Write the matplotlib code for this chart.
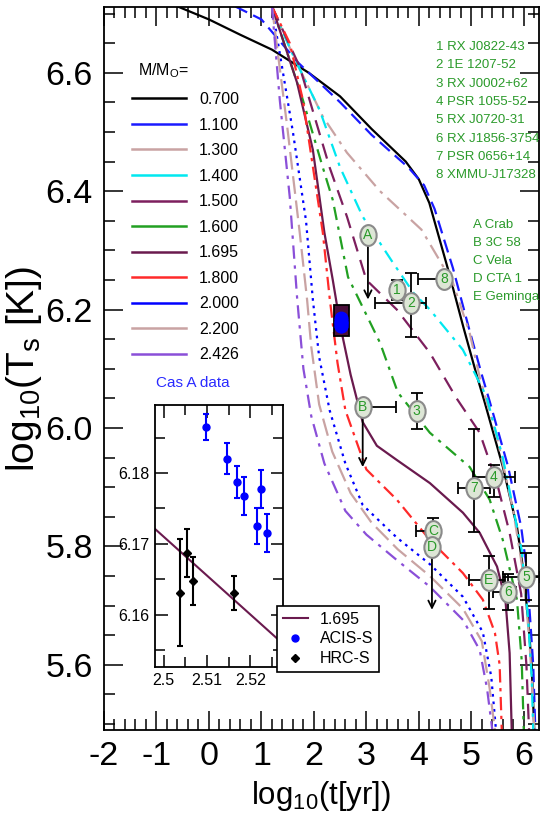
import matplotlib
matplotlib.use('Agg')
import matplotlib.pyplot as plt
import matplotlib.transforms as mtransforms
from matplotlib.lines import Line2D
from matplotlib.path import Path
from matplotlib.patches import Rectangle
from matplotlib.ticker import MultipleLocator, FormatStrFormatter

plt.rcParams['font.family'] = ['Liberation Sans', 'DejaVu Sans']
plt.rcParams['axes.unicode_minus'] = False

# cooling curves, log10(t[yr]) vs log10(Ts[K])
t_0700 = [-0.6, 0.0, 0.6, 1.2, 1.9, 2.5, 3.1, 3.75, 4.0, 4.2, 4.55, 4.85, 5.1, 5.25, 5.6, 5.87, 5.98, 6.08, 6.15, 6.2]
T_0700 = [6.712, 6.69, 6.664, 6.639, 6.60, 6.56, 6.505, 6.45, 6.42, 6.38, 6.27, 6.17, 6.09, 6.045, 5.935, 5.833, 5.766, 5.68, 5.60, 5.49]
t_1100 = [0.5, 1.0, 1.7, 2.5, 3.1, 3.8, 4.1, 4.3, 4.65, 4.95, 5.2, 5.35, 5.7, 5.95, 6.05, 6.12, 6.18, 6.22]
T_1100 = [6.712, 6.69, 6.617, 6.55, 6.495, 6.44, 6.41, 6.37, 6.27, 6.17, 6.09, 6.045, 5.935, 5.833, 5.766, 5.68, 5.60, 5.49]
t_1300 = [1.2, 1.6, 2.17, 2.63, 3.26, 4.05, 4.65, 4.97, 5.16, 5.5, 5.8, 5.98, 6.1, 6.17, 6.2]
T_1300 = [6.712, 6.63, 6.526, 6.465, 6.40, 6.335, 6.245, 6.16, 6.086, 5.98, 5.86, 5.76, 5.65, 5.55, 5.49]
t_1400 = [1.2, 1.6, 2.11, 2.5, 2.93, 3.5, 3.9, 4.21, 4.84, 5.29, 5.6, 5.96, 6.08, 6.15, 6.18]
T_1400 = [6.712, 6.63, 6.537, 6.44, 6.357, 6.28, 6.228, 6.20, 6.132, 6.053, 5.95, 5.794, 5.68, 5.58, 5.49]
t_1500 = [1.2, 1.73, 2.3, 2.63, 3.0, 3.58, 4.21, 4.72, 5.16, 5.49, 5.73, 5.95, 6.05, 6.1]
T_1500 = [6.712, 6.61, 6.44, 6.357, 6.25, 6.20, 6.127, 6.05, 5.992, 5.907, 5.823, 5.72, 5.60, 5.49]
t_1600 = [1.2, 1.79, 2.17, 2.36, 2.65, 3.26, 3.6, 4.21, 4.97, 5.35, 5.6, 5.87, 5.96, 6.0]
T_1600 = [6.712, 6.554, 6.44, 6.385, 6.255, 6.144, 6.06, 5.992, 5.934, 5.879, 5.811, 5.71, 5.608, 5.49]
t_1695 = [1.2, 1.68, 1.98, 2.2, 2.36, 2.51, 2.7, 2.93, 3.2, 3.58, 4.21, 4.84, 5.16, 5.49, 5.65, 5.73, 5.77]
T_1695 = [6.712, 6.583, 6.47, 6.33, 6.25, 6.17, 6.09, 6.01, 5.97, 5.946, 5.907, 5.857, 5.823, 5.766, 5.71, 5.62, 5.49]
t_1800 = [1.2, 1.54, 1.79, 2.0, 2.17, 2.3, 2.45, 2.6, 3.0, 3.58, 4.21, 4.84, 5.22, 5.45, 5.54, 5.58]
T_1800 = [6.712, 6.65, 6.554, 6.43, 6.33, 6.22, 6.11, 6.03, 5.93, 5.879, 5.811, 5.755, 5.71, 5.654, 5.60, 5.49]
t_2000 = [1.2, 1.6, 1.85, 1.98, 2.1, 2.3, 2.6, 2.93, 3.58, 4.21, 4.84, 5.22, 5.38, 5.47]
T_2000 = [6.712, 6.50, 6.35, 6.217, 6.12, 6.03, 5.94, 5.87, 5.815, 5.77, 5.715, 5.655, 5.58, 5.49]
t_2200 = [1.2, 1.49, 1.73, 1.87, 1.95, 2.1, 2.35, 2.7, 3.1, 3.6, 4.21, 4.84, 5.2, 5.35, 5.45]
T_2200 = [6.712, 6.51, 6.33, 6.217, 6.137, 6.04, 5.96, 5.89, 5.84, 5.795, 5.75, 5.695, 5.64, 5.56, 5.49]
t_2426 = [1.2, 1.35, 1.54, 1.68, 1.8, 1.95, 2.2, 2.6, 3.0, 3.58, 4.21, 4.84, 5.16, 5.3, 5.4]
T_2426 = [6.712, 6.554, 6.39, 6.22, 6.10, 6.02, 5.94, 5.86, 5.82, 5.777, 5.732, 5.676, 5.625, 5.56, 5.49]

masses = ['0.700', '1.100', '1.300', '1.400', '1.500', '1.600', '1.695', '1.800', '2.000', '2.200', '2.426']

# observed neutron stars
obj_labels = ['A', '1', '2', '8', 'B', '3', '7', '4', 'C', 'D', 'E', '6', '5']
obj_t = [3.03, 3.58, 3.85, 4.48, 2.93, 3.96, 5.05, 5.43, 4.27, 4.25, 5.33, 5.70, 6.04]
obj_T = [6.326, 6.233, 6.211, 6.252, 6.036, 6.029, 5.899, 5.918, 5.826, 5.799, 5.744, 5.723, 5.749]
obj_t_lo = [0, 0, 0.69, 0.50, 0, 0, 0.31, 0.40, 0.33, 0, 0.38, 0.28, 0.44]
obj_t_hi = [0, 0, 0.29, 0, 0.63, 0, 0.30, 0.40, 0.13, 0, 0.31, 0.16, 0.26]
obj_T_lo = [0, 0.017, 0.057, 0, 0, 0.03, 0.074, 0.034, 0.02, 0, 0.049, 0.03, 0.039]
obj_T_hi = [0, 0.017, 0.051, 0, 0, 0.03, 0.10, 0.02, 0.022, 0, 0.04, 0.03, 0.04]
limit_labels = ['A', 'B', 'D']
limit_t = [3.03, 2.93, 4.25]
limit_T = [6.326, 6.036, 5.799]
limit_T_end = [6.217, 5.934, 5.693]

names_num = ['1 RX J0822-43', '2 1E 1207-52', '3 RX J0002+62', '4 PSR 1055-52',
             '5 RX J0720-31', '6 RX J1856-3754', '7 PSR 0656+14', '8 XMMU-J17328']
names_let = ['A Crab', 'B 3C 58', 'C Vela', 'D CTA 1', 'E Geminga']

# Cas A data
acis_t = [2.5097, 2.5147, 2.517, 2.5184, 2.5214, 2.5225, 2.5239]
acis_T = [6.1865, 6.182, 6.1787, 6.1767, 6.1725, 6.1777, 6.1715]
acis_err = [0.0018, 0.0022, 0.0023, 0.0027, 0.0025, 0.0027, 0.0027]
hrc_t = [2.5037, 2.5053, 2.5067, 2.5163]
hrc_T = [6.1631, 6.1687, 6.1647, 6.163]
hrc_err = [0.0076, 0.0034, 0.0034, 0.0024]
casA_line_t = [2.498, 2.528]
casA_line_T = [6.1721, 6.1556]
casA_box_t = [2.38, 2.666]
casA_box_T = [6.156, 6.208]

colors = ['black', '#1a1aff', '#c9a3a3', '#00e8f0', '#7d1f5e', '#22a022',
          '#6a1a4e', '#ff2a2a', '#0000ff', '#c9a3a3', '#8a4fd8']
styles = ['-', (0, (6, 3)), (0, (7, 3, 1.5, 3)), (0, (6, 3, 1.5, 3)), (0, (7, 4)),
          (0, (6, 3, 1.5, 3)), '-', (0, (6, 2.5, 1.5, 2.5)), (0, (1.2, 2.2)),
          (0, (8, 3)), (0, (6, 3, 1.5, 3))]
curves = [(t_0700, T_0700), (t_1100, T_1100), (t_1300, T_1300), (t_1400, T_1400),
          (t_1500, T_1500), (t_1600, T_1600), (t_1695, T_1695), (t_1800, T_1800),
          (t_2000, T_2000), (t_2200, T_2200), (t_2426, T_2426)]

W, H = 541, 838
def fx(p):
    return p / W
def fy(p):
    return 1 - p / H

fig = plt.figure(figsize=(W / 100, H / 100), dpi=100)
ax = fig.add_axes([fx(104), fy(730), 435 / W, 723 / H])

for (t, T), c, ls in zip(curves, colors, styles):
    ax.plot(t, T, color=c, ls=ls, lw=1.6, zorder=2)

ax.set_xlim(-2, 6.29)
ax.set_ylim(5.49, 6.711)
ax.xaxis.set_major_locator(MultipleLocator(1))
ax.xaxis.set_minor_locator(MultipleLocator(0.2))
ax.yaxis.set_major_locator(MultipleLocator(0.2))
ax.yaxis.set_minor_locator(MultipleLocator(0.05))
ax.yaxis.set_major_formatter(FormatStrFormatter('%.1f'))
ax.xaxis.set_major_formatter(FormatStrFormatter('%d'))
ax.tick_params(which='both', direction='in', top=True, right=True, width=1.1)
ax.tick_params(which='major', length=14, labelsize=24.5, pad=8)
ax.tick_params(which='minor', length=8)
for s in ax.spines.values():
    s.set_linewidth(1.3)
ax.set_xlabel(r'log$_{\mathregular{10}}$(t[yr])', fontsize=22.5, labelpad=5)
ax.set_ylabel(r'log$_{\mathregular{10}}$(T$_{\mathregular{s}}$ [K])', fontsize=28, labelpad=1)

# observations
ell = Path.unit_circle().transformed(mtransforms.Affine2D().scale(0.78, 1.0))
ax.errorbar(obj_t, obj_T, xerr=[obj_t_lo, obj_t_hi], yerr=[obj_T_lo, obj_T_hi],
            fmt='none', ecolor='black', elinewidth=1.3, capsize=4, capthick=1.3, zorder=5)
for x, y, y2 in zip(limit_t, limit_T, limit_T_end):
    ax.annotate('', xy=(x, y2), xytext=(x, y),
                arrowprops=dict(arrowstyle='->', color='black', lw=1.3,
                                mutation_scale=13, shrinkA=0, shrinkB=0), zorder=5)
ax.plot(obj_t, obj_T, ls='none', marker=ell, ms=15, mfc='#dde6d6', mec='#8a8a8a',
        mew=1.5, zorder=6)
for lab, x, y in zip(obj_labels, obj_t, obj_T):
    ax.text(x, y, lab, ha='center', va='center', fontsize=10, color='#2a9a2a', zorder=7)

# Cas A in main panel
ax.add_patch(Rectangle((casA_box_t[0], casA_box_T[0]), casA_box_t[1] - casA_box_t[0],
                       casA_box_T[1] - casA_box_T[0], facecolor='#4b0f3a',
                       edgecolor='black', lw=1.3, zorder=6))
ax.errorbar(acis_t, acis_T, yerr=acis_err, fmt='o', color='blue', ms=9, elinewidth=3,
            zorder=7)

# mass legend
handles = [Line2D([], [], color=c, lw=1.8) for c in colors]
ax.legend(handles, masses, loc='upper left', bbox_to_anchor=(fx(132), fy(92)),
          bbox_transform=fig.transFigure, frameon=False, fontsize=11.5,
          handlelength=3.4, handletextpad=0.8, labelspacing=0.66, borderpad=0,
          borderaxespad=0)
fig.text(fx(138), fy(71), r'M/M$_{\mathregular{O}}$=', fontsize=11.5, va='center')

green = '#2a9a2a'
for i, s in enumerate(names_num):
    fig.text(fx(436), fy(47 + 18.3 * i), s, fontsize=9.5, color=green, va='center')
for i, s in enumerate(names_let):
    fig.text(fx(473), fy(225 + 18 * i), s, fontsize=9.5, color=green, va='center')

# inset
axi = fig.add_axes([fx(155), fy(667), 128 / W, 262 / H])
axi.plot(casA_line_t, casA_line_T, color='#6a1a4e', lw=1.5)
axi.errorbar(acis_t, acis_T, yerr=acis_err, fmt='o', color='blue', ms=5,
             elinewidth=1.5, capsize=2.5, capthick=1.5)
axi.errorbar(hrc_t, hrc_T, yerr=hrc_err, fmt='D', color='black', ms=4.5,
             elinewidth=1.5, capsize=2.5, capthick=1.5)
axi.set_xlim(2.498, 2.5275)
axi.set_ylim(6.1526, 6.1896)
axi.xaxis.set_major_locator(MultipleLocator(0.01))
axi.xaxis.set_minor_locator(MultipleLocator(0.005))
axi.yaxis.set_major_locator(MultipleLocator(0.01))
axi.yaxis.set_minor_locator(MultipleLocator(0.005))
axi.xaxis.set_major_formatter(FormatStrFormatter('%g'))
axi.yaxis.set_major_formatter(FormatStrFormatter('%.2f'))
axi.tick_params(which='both', direction='in', top=True, right=True, width=1.1)
axi.tick_params(which='major', length=9, labelsize=11.5, pad=4)
axi.tick_params(which='minor', length=7)
for s in axi.spines.values():
    s.set_linewidth(1.3)
fig.text(fx(193), fy(383), 'Cas A data', fontsize=11, color='#2a2aff', ha='center',
         va='center')

ih = [Line2D([], [], color='#6a1a4e', lw=1.5),
      Line2D([], [], marker='o', color='blue', ls='none', ms=5),
      Line2D([], [], marker='D', color='black', ls='none', ms=4.5)]
leg2 = fig.legend(ih, ['1.695', 'ACIS-S', 'HRC-S'], loc='upper left',
                  bbox_to_anchor=(fx(277), fy(606)), fancybox=False, edgecolor='black',
                  framealpha=1, fontsize=11.5, handlelength=1.6, handletextpad=0.75,
                  labelspacing=0.3, borderpad=0.35, borderaxespad=0)
leg2.get_frame().set_linewidth(1.2)

fig.savefig('out.png', dpi=100)
